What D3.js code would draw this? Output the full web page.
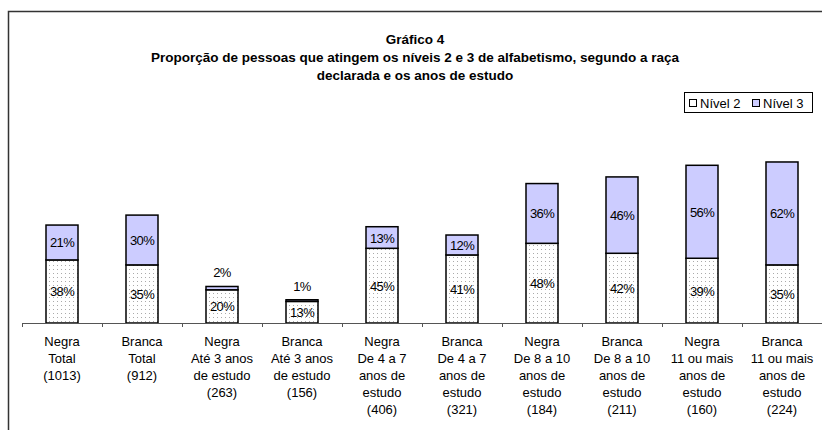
<!DOCTYPE html>
<html>
<head>
<meta charset="utf-8">
<script src="https://cdn.jsdelivr.net/npm/d3@7"></script>
<style>
  body { margin: 0; background: #fff; }
  text { font-family: "Liberation Sans", Arial, sans-serif; }
</style>
</head>
<body>
<div id="chart"></div>
<script>
// categories (label lines)
var categories = [
  ["Negra", "Total", "(1013)"],
  ["Branca", "Total", "(912)"],
  ["Negra", "Até 3 anos", "de estudo", "(263)"],
  ["Branca", "Até 3 anos", "de estudo", "(156)"],
  ["Negra", "De 4 a 7", "anos de", "estudo", "(406)"],
  ["Branca", "De 4 a 7", "anos de", "estudo", "(321)"],
  ["Negra", "De 8 a 10", "anos de", "estudo", "(184)"],
  ["Branca", "De 8 a 10", "anos de", "estudo", "(211)"],
  ["Negra", "11 ou mais", "anos de", "estudo", "(160)"],
  ["Branca", "11 ou mais", "anos de", "estudo", "(224)"]
];
var nivel2 = [38, 35, 20, 13, 45, 41, 48, 42, 39, 35];
var nivel3 = [21, 30, 2, 1, 13, 12, 36, 46, 56, 62];
var seriesNames = ["Nível 2", "Nível 3"];
var titleLines = [
  "Gráfico 4",
  "Proporção de pessoas que atingem os níveis 2 e 3 de alfabetismo, segundo a raça",
  "declarada e os anos de estudo"
];

var W = 822, H = 430;
var svg = d3.select("#chart").append("svg")
  .attr("width", W).attr("height", H);

var defs = svg.append("defs");
var pat = defs.append("pattern")
  .attr("id", "dots")
  .attr("patternUnits", "userSpaceOnUse")
  .attr("width", 4).attr("height", 4);
pat.append("rect").attr("width", 4).attr("height", 4).attr("fill", "#fff");
pat.append("rect").attr("x", 1).attr("y", 1).attr("width", 1).attr("height", 1).attr("fill", "#aaa");

// outer frame (left + top visible)
svg.append("path")
  .attr("d", "M8.5," + H + " V11.5 H" + W)
  .attr("fill", "none").attr("stroke", "#333").attr("stroke-width", 1.5);

// title
svg.append("g").selectAll("text").data(titleLines).enter().append("text")
  .attr("x", 415)
  .attr("y", function(d, i) { return 44 + i * 18; })
  .attr("text-anchor", "middle")
  .attr("font-size", "13.5px")
  .attr("font-weight", "bold")
  .text(function(d) { return d; });

var margin = { left: 22, top: 157, bottom: 323 };
var x = d3.scaleBand()
  .domain(d3.range(categories.length))
  .range([margin.left, 822])
  .paddingInner(0.6).paddingOuter(0.3);
var y = d3.scaleLinear().domain([0, 100]).range([margin.bottom, margin.top]);

var stack = d3.stack().keys([0, 1])
  .value(function(d, k) { return k === 0 ? d.n2 : d.n3; });
var rows = nivel2.map(function(v, i) { return { i: i, n2: v, n3: nivel3[i] }; });
var layers = stack(rows);

var fills = ["url(#dots)", "#ccccff"];

var g = svg.append("g");
layers.forEach(function(layer, k) {
  g.selectAll(".bar" + k).data(layer).enter().append("rect")
    .attr("x", function(d) { return x(d.data.i); })
    .attr("y", function(d) { return y(d[1]); })
    .attr("width", x.bandwidth())
    .attr("height", function(d) { return y(d[0]) - y(d[1]); })
    .attr("fill", fills[k])
    .attr("stroke", "#000")
    .attr("stroke-width", 1.5);
});

// value labels
layers.forEach(function(layer, k) {
  g.selectAll(".lab" + k).data(layer).enter().append("text")
    .attr("x", function(d) { return x(d.data.i) + x.bandwidth() / 2; })
    .attr("y", function(d) {
      var v = d[1] - d[0];
      if (v < 5) return y(d[1]) - 9;
      return (y(d[0]) + y(d[1])) / 2 + 5;
    })
    .attr("text-anchor", "middle")
    .attr("font-size", "13px")
    .attr("letter-spacing", "-0.6px")
    .text(function(d) { return (d[1] - d[0]) + "%"; });
});

// x axis
var axisG = svg.append("g");
axisG.append("line")
  .attr("x1", margin.left).attr("x2", 822)
  .attr("y1", margin.bottom + 0.5).attr("y2", margin.bottom + 0.5)
  .attr("stroke", "#555").attr("stroke-width", 1);
var step = x.step();
axisG.selectAll(".tick").data(d3.range(categories.length + 1)).enter().append("line")
  .attr("x1", function(d) { return margin.left + d * step + 0.5; })
  .attr("x2", function(d) { return margin.left + d * step + 0.5; })
  .attr("y1", margin.bottom).attr("y2", margin.bottom + 4)
  .attr("stroke", "#555");

var lab = axisG.selectAll(".cat").data(categories).enter().append("text")
  .attr("text-anchor", "middle")
  .attr("font-size", "13px")
  .attr("transform", function(d, i) {
    return "translate(" + (x(i) + x.bandwidth() / 2) + ",346)";
  });
lab.selectAll("tspan").data(function(d) { return d; }).enter().append("tspan")
  .attr("x", 0)
  .attr("y", function(d, j) { return j * 17; })
  .text(function(d) { return d; });

// legend
var lg = svg.append("g").attr("transform", "translate(684,92)");
lg.append("rect").attr("x", 0.5).attr("y", 0.5).attr("width", 128).attr("height", 20)
  .attr("fill", "#fff").attr("stroke", "#000");
var items = lg.selectAll(".li").data(seriesNames).enter().append("g")
  .attr("transform", function(d, i) { return "translate(" + (5 + i * 63) + ",0)"; });
items.append("rect")
  .attr("x", 0.5).attr("y", 7.5).attr("width", 7).attr("height", 7)
  .attr("fill", function(d, i) { return i === 0 ? "#fff" : "#ccccff"; })
  .attr("stroke", "#000");
items.append("text")
  .attr("x", 11).attr("y", 15.5)
  .attr("font-size", "13px")
  .text(function(d) { return d; });
</script>
</body>
</html>
